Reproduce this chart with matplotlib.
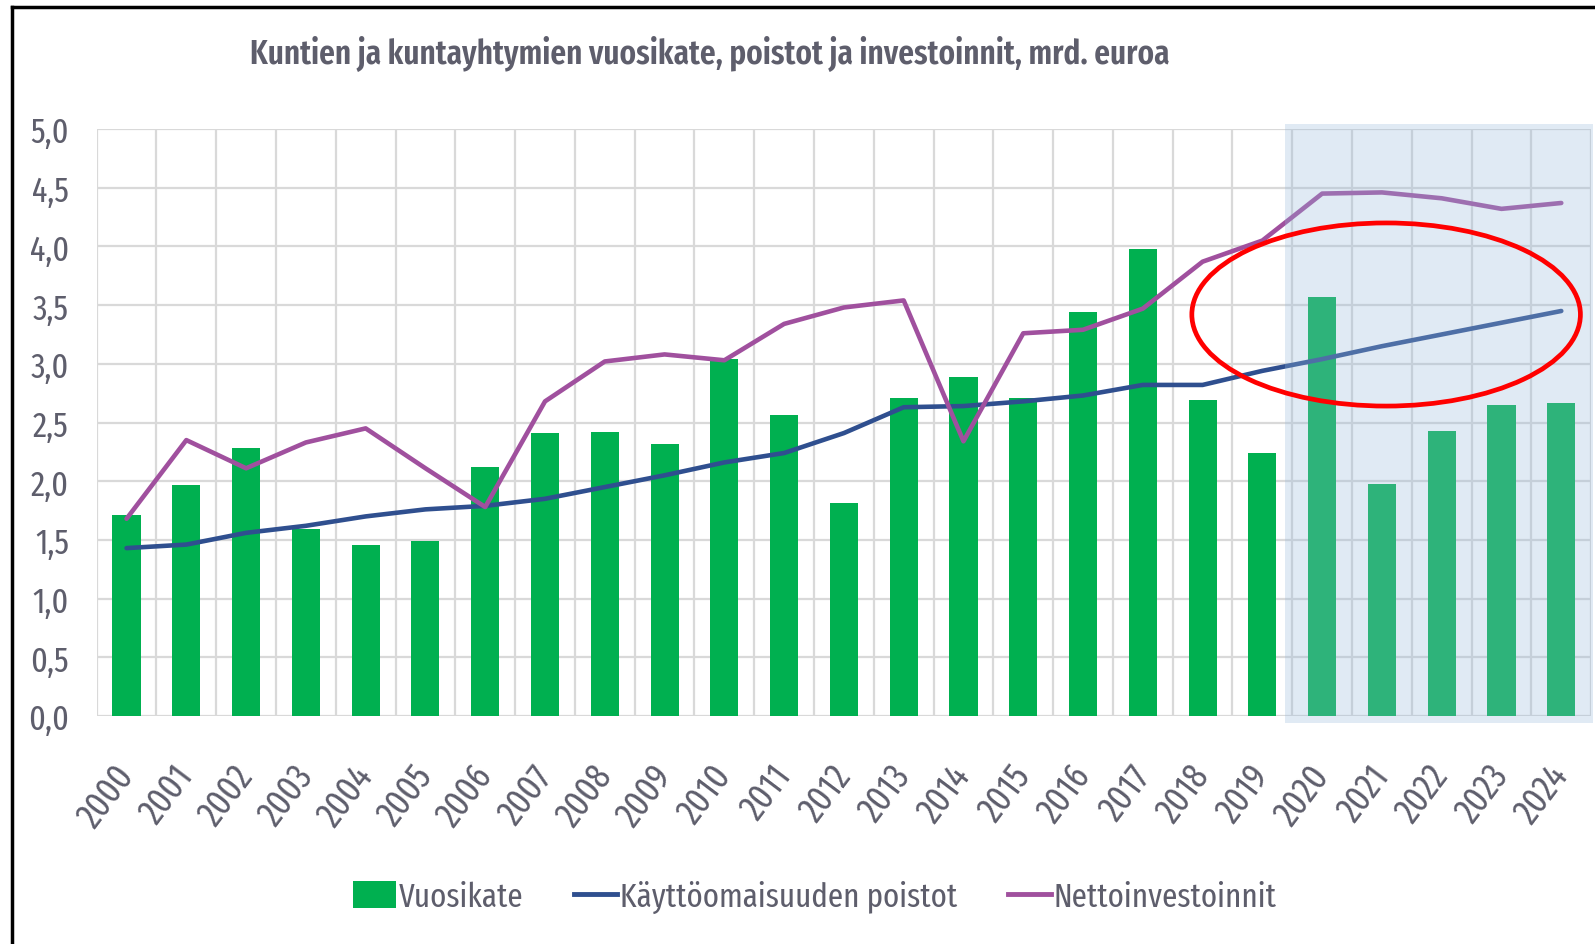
import numpy as np
import matplotlib.pyplot as plt
from matplotlib.patches import Rectangle, Ellipse, Patch
from matplotlib.lines import Line2D
from matplotlib.ticker import FuncFormatter

years = [str(y) for y in range(2000, 2025)]
vuosikate = [1.71, 1.97, 2.28, 1.59, 1.46, 1.49, 2.12, 2.41, 2.42, 2.32,
             3.04, 2.56, 1.81, 2.71, 2.89, 2.71, 3.44, 3.98, 2.69, 2.24,
             3.57, 1.98, 2.43, 2.65, 2.67]
poistot = [1.43, 1.46, 1.56, 1.62, 1.70, 1.76, 1.79, 1.85, 1.95, 2.05,
           2.16, 2.24, 2.41, 2.63, 2.64, 2.68, 2.73, 2.82, 2.82, 2.94,
           3.04, 3.15, 3.25, 3.35, 3.45]
nettoinv = [1.68, 2.35, 2.11, 2.33, 2.45, 2.11, 1.78, 2.68, 3.02, 3.08,
            3.03, 3.34, 3.48, 3.54, 2.34, 3.26, 3.29, 3.47, 3.87, 4.05,
            4.45, 4.46, 4.41, 4.32, 4.37]

green = '#00b050'
blue = '#2f4f8f'
purple = '#a0509e'
txt = '#5e5e6c'
plt.rcParams['font.family'] = ['Fira Sans Extra Condensed', 'Carlito', 'DejaVu Sans']

fig = plt.figure(figsize=(15.95, 9.45), dpi=100)
ax = fig.add_axes([0.0606, 0.2413, 0.937, 0.6211])

x = np.arange(len(years))
ax.bar(x, vuosikate, width=0.47, color=green, zorder=2)
ax.plot(x, poistot, color=blue, lw=3.3, zorder=3, solid_capstyle='round')
ax.plot(x, nettoinv, color=purple, lw=3.3, zorder=3, solid_capstyle='round')

ax.set_xlim(-0.5, len(years) - 0.5)
ax.set_ylim(0, 5)
ax.set_yticks(np.arange(0, 5.01, 0.5))
ax.yaxis.set_major_formatter(FuncFormatter(lambda v, p: f'{v:.1f}'.replace('.', ',')))
ax.set_xticks(x)
ax.set_xticks(np.arange(-0.5, len(years), 1), minor=True)
ax.set_xticklabels(years, rotation=53, ha='right', va='center', rotation_mode='anchor')
ax.tick_params(axis='both', which='both', length=0, labelsize=26, labelcolor=txt)
ax.tick_params(axis='y', labelsize=25, pad=20)
ax.tick_params(axis='x', pad=38)
ax.grid(axis='y', color='#d9d9d9', lw=1.6, zorder=0)
ax.grid(axis='x', which='minor', color='#d9d9d9', lw=1.6, zorder=0)
ax.set_axisbelow(True)
for s in ax.spines.values():
    s.set_visible(False)

# forecast shading
ax.add_patch(Rectangle((19.38, -0.06), 5.15, 5.1, facecolor='#99badc', alpha=0.3,
                       edgecolor='none', zorder=4, clip_on=False))
# red ellipse
ax.add_patch(Ellipse((21.07, 3.42), 6.5, 1.56, facecolor='none', edgecolor='#ff0000',
                     lw=3.4, zorder=5, clip_on=False))

fig.text(0.445, 0.943, 'Kuntien ja kuntayhtymien vuosikate, poistot ja investoinnit, mrd. euroa',
         ha='center', va='center', fontsize=24.3, fontweight='semibold', color=txt)

handles = [Patch(facecolor=green, edgecolor='none'),
           Line2D([], [], color=blue, lw=3.5),
           Line2D([], [], color=purple, lw=3.5)]
fig.legend(handles, ['Vuosikate', 'Käyttöomaisuuden poistot', 'Nettoinvestoinnit'],
           loc='center', bbox_to_anchor=(0.511, 0.05), ncol=3, frameon=False,
           fontsize=24.2, labelcolor=txt, handlelength=1.27, handleheight=0.82,
           handletextpad=0.1, columnspacing=1.5)

# chart frame (left and top edges)
fig.add_artist(Line2D([12 / 1595, 12 / 1595], [0, 1 - 8 / 945], color='black', lw=2.5))
fig.add_artist(Line2D([12 / 1595, 1], [1 - 8 / 945, 1 - 8 / 945], color='black', lw=2.5))

fig.savefig('out.png', dpi=100)
